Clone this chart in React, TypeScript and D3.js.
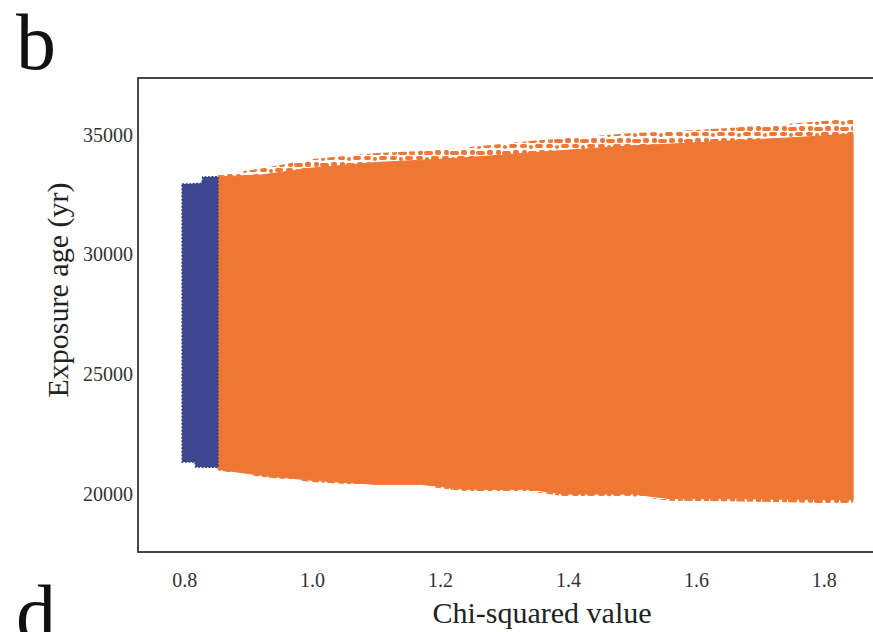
import React from "react";
import * as d3 from "d3";

// ---------- data ----------
const xTicks = [0.8, 1.0, 1.2, 1.4, 1.6, 1.8];
const yTicks = [20000, 25000, 30000, 35000];

// blue series (lowest chi-squared) envelope
const blueX = [0.796, 0.816, 0.817, 0.827, 0.828, 0.852];
const blueTop = [32950, 32960, 32970, 32980, 33240, 33260];
const blueBottom = [21340, 21340, 21130, 21130, 21120, 21120];

// orange series envelope
const orangeX = [0.852, 0.92, 1.0, 1.1, 1.17, 1.24, 1.34, 1.39, 1.5, 1.56, 1.65, 1.76, 1.845];
const orangeTopOuter = [33330, 33600, 34000, 34250, 34330, 34480, 34750, 34850, 35080, 35150, 35290, 35500, 35680];
const orangeTopSolid = [33250, 33330, 33620, 33850, 33950, 34050, 34250, 34350, 34550, 34620, 34750, 34900, 35050];
const orangeBottomSolid = [21030, 20780, 20570, 20400, 20400, 20200, 20200, 20000, 20000, 19800, 19800, 19780, 19760];
const orangeBottomOuter = [20980, 20720, 20500, 20340, 20330, 20120, 20110, 19920, 19910, 19720, 19700, 19640, 19580];

const ORANGE = "#ee7733";
const BLUE = "#3d4890";

export default function App() {
  const W = 873;
  const H = 632;
  const frame = { left: 138, top: 78, right: 890, bottom: 552 };

  const x = d3.scaleLinear().domain([0.8, 1.8]).range([184.7, 824.3]);
  const y = d3.scaleLinear().domain([20000, 35000]).range([494, 135]);

  const idx = orangeX.map((_, i) => i);
  const bIdx = blueX.map((_, i) => i);

  const areaGen = (xs: number[], top: number[], bot: number[]) =>
    d3
      .area<number>()
      .x((i) => x(xs[i]))
      .y0((i) => y(bot[i]))
      .y1((i) => y(top[i]))
      .curve(d3.curveLinear);

  const blueArea = areaGen(blueX, blueTop, blueBottom)(bIdx) || "";
  const orangeSolid = areaGen(orangeX, orangeTopSolid, orangeBottomSolid)(idx) || "";
  const orangeTopBand = areaGen(orangeX, orangeTopOuter, orangeTopSolid)(idx) || "";
  const orangeBotBand = areaGen(orangeX, orangeBottomSolid, orangeBottomOuter)(idx) || "";

  const serif = "'Liberation Serif', 'Times New Roman', serif";

  return (
    <svg
      width={W}
      height={H}
      style={{ position: "absolute", left: 0, top: 0, background: "#fff" }}
    >
      <defs>
        <pattern id="dotsO" width="26" height="12" patternUnits="userSpaceOnUse">
          <rect x="0" y="0" width="7" height="4" rx="2" fill={ORANGE} />
          <rect x="9" y="1" width="4" height="4" rx="2" fill={ORANGE} />
          <rect x="15" y="0" width="8" height="4" rx="2" fill={ORANGE} />
          <rect x="2" y="6" width="5" height="5" rx="2" fill={ORANGE} />
          <rect x="8" y="7" width="9" height="4" rx="2" fill={ORANGE} />
          <rect x="19" y="6" width="6" height="5" rx="2" fill={ORANGE} />
        </pattern>
        <clipPath id="plotClip">
          <rect x={frame.left} y={frame.top} width={frame.right - frame.left} height={frame.bottom - frame.top} />
        </clipPath>
      </defs>
      <rect x={0} y={0} width={W} height={H} fill="#fff" />

      <g clipPath="url(#plotClip)">
        <path d={orangeTopBand} fill="url(#dotsO)" />
        <path d={orangeBotBand} fill="url(#dotsO)" />
        <path d={orangeSolid} fill={ORANGE} stroke={ORANGE} strokeWidth={1} />
        <path d={blueArea} fill={BLUE} stroke="#35407f" strokeWidth={1.5} strokeDasharray="2 1.5" />
      </g>

      {/* frame */}
      <rect
        x={frame.left}
        y={frame.top}
        width={frame.right - frame.left}
        height={frame.bottom - frame.top}
        fill="none"
        stroke="#333"
        strokeWidth={1.8}
      />

      {/* y tick labels */}
      {yTicks.map((t) => (
        <text
          key={"y" + t}
          x={133}
          y={y(t) + 6.8}
          textAnchor="end"
          fontFamily={serif}
          fontSize={20}
          fill="#333"
        >
          {t}
        </text>
      ))}

      {/* x tick labels */}
      {xTicks.map((t) => (
        <text
          key={"x" + t}
          x={x(t)}
          y={587}
          textAnchor="middle"
          fontFamily={serif}
          fontSize={20}
          fill="#333"
        >
          {t.toFixed(1)}
        </text>
      ))}

      {/* axis titles */}
      <text x={542} y={623} textAnchor="middle" fontFamily={serif} fontSize={30} fill="#222">
        Chi-squared value
      </text>
      <text
        transform={`translate(68, 290) rotate(-90)`}
        textAnchor="middle"
        fontFamily={serif}
        fontSize={30}
        fill="#222"
      >
        Exposure age (yr)
      </text>

      {/* panel letters */}
      <text x={16} y={69} fontFamily={serif} fontSize={80} fill="#111">
        b
      </text>
      <text x={16} y={640} fontFamily={serif} fontSize={80} fill="#111">
        d
      </text>
    </svg>
  );
}
